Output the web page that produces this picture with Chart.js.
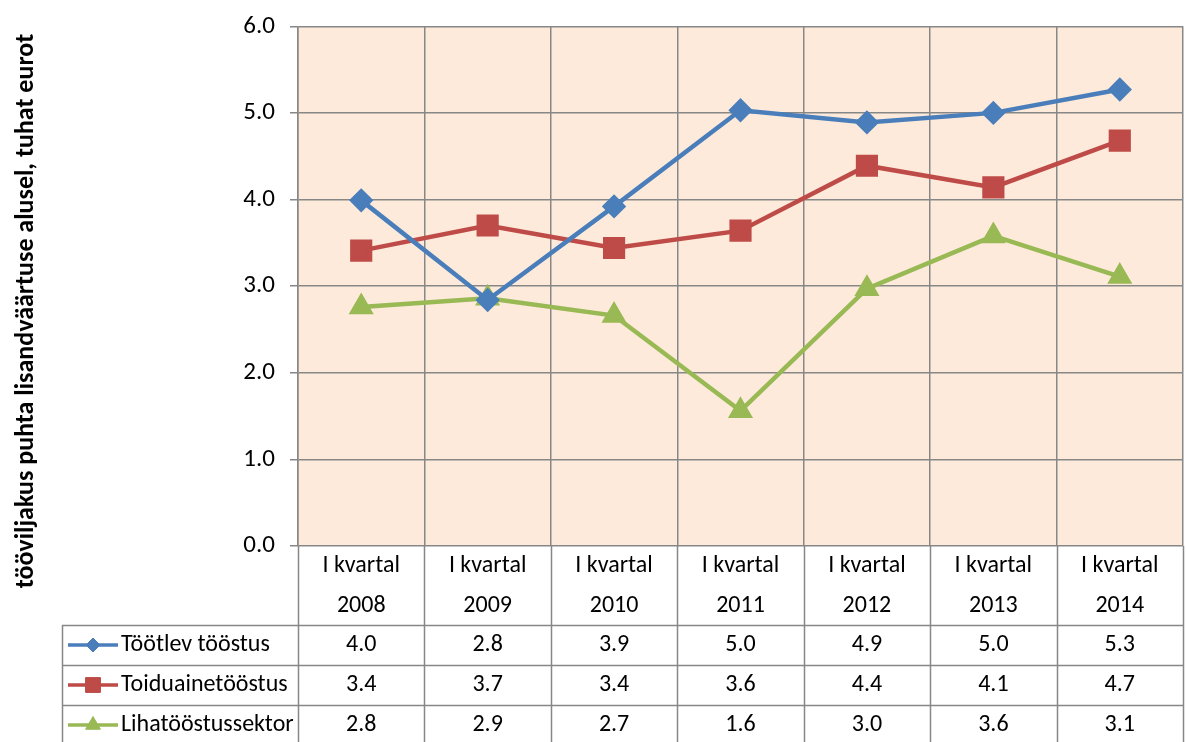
<!DOCTYPE html>
<html>
<head>
<meta charset="utf-8">
<script src="https://cdn.jsdelivr.net/npm/chart.js@4.4.1/dist/chart.umd.min.js"></script>
<style>
  html, body { margin: 0; padding: 0; background: #fff; overflow: hidden; }
  #wrap { position: relative; width: 1200px; height: 742px; }
</style>
</head>
<body>
<div id="wrap"><canvas id="chart" width="1200" height="742"></canvas></div>
<script>
// Data
const quarterLabels = ['I kvartal', 'I kvartal', 'I kvartal', 'I kvartal', 'I kvartal', 'I kvartal', 'I kvartal'];
const yearLabels = ['2008', '2009', '2010', '2011', '2012', '2013', '2014'];
const seriesNames = ['Töötlev tööstus', 'Toiduainetööstus', 'Lihatööstussektor'];
const tootlevTööstus = [3.99, 2.84, 3.92, 5.03, 4.89, 5.00, 5.27];
const toiduainetööstus = [3.41, 3.70, 3.44, 3.64, 4.39, 4.14, 4.68];
const lihatööstussektor = [2.76, 2.86, 2.66, 1.56, 2.97, 3.58, 3.11];
const yTicks = [0, 1, 2, 3, 4, 5, 6];
const yTitle = 'tööviljakus puhta lisandväärtuse alusel, tuhat eurot';

const gridColor = '#878787';
const plotBg = '#FDEADA';
const textFont = 'Carlito, Lato, sans-serif';

// Table below the plot + background of the plot area
const dataTablePlugin = {
  id: 'dataTable',
  beforeDraw(chart) {
    const { ctx, chartArea } = chart;
    ctx.save();
    ctx.fillStyle = plotBg;
    ctx.fillRect(chartArea.left, chartArea.top, chartArea.right - chartArea.left, chartArea.bottom - chartArea.top);
    ctx.restore();
  },
  afterDraw(chart) {
    const { ctx, chartArea, scales } = chart;
    const x = scales.x;
    const n = yearLabels.length;
    const colW = (x.right - x.left) / n;
    const top = chartArea.bottom;
    const headerH = 79;
    const rowH = 40;
    const tableLeft = 62;
    const bottom = top + headerH + rowH * seriesNames.length;

    ctx.save();
    ctx.strokeStyle = gridColor;
    ctx.lineWidth = 1.5;

    // vertical lines through header + rows
    for (let i = 0; i <= n; i++) {
      const px = Math.round(x.left + i * colW) + 0.5;
      ctx.beginPath();
      ctx.moveTo(px, top);
      ctx.lineTo(px, bottom);
      ctx.stroke();
    }
    // left border of legend column
    ctx.beginPath();
    ctx.moveTo(tableLeft + 0.5, top + headerH);
    ctx.lineTo(tableLeft + 0.5, bottom);
    ctx.stroke();
    // horizontal row lines
    for (let r = 0; r <= seriesNames.length; r++) {
      const py = Math.round(top + headerH + r * rowH) + 0.5;
      ctx.beginPath();
      ctx.moveTo(tableLeft, py);
      ctx.lineTo(x.right, py);
      ctx.stroke();
    }

    // header text
    ctx.fillStyle = '#000';
    ctx.textAlign = 'center';
    ctx.textBaseline = 'middle';
    ctx.font = '24px ' + textFont;
    for (let i = 0; i < n; i++) {
      const cx = x.getPixelForValue(i);
      ctx.fillText(quarterLabels[i], cx, top + 20);
      ctx.fillText(yearLabels[i], cx, top + 60);
    }

    // value rows
    chart.data.datasets.forEach((ds, r) => {
      const cy = top + headerH + r * rowH + rowH / 2;
      ctx.textAlign = 'center';
      ds.data.forEach((v, i) => {
        ctx.fillText(v.toFixed(1), x.getPixelForValue(i), cy);
      });

      // legend key: line + marker
      ctx.strokeStyle = ds.borderColor;
      ctx.lineWidth = 3.5;
      ctx.beginPath();
      ctx.moveTo(tableLeft + 6, cy);
      ctx.lineTo(tableLeft + 56, cy);
      ctx.stroke();
      ctx.fillStyle = ds.backgroundColor;
      ctx.strokeStyle = ds.borderColor;
      ctx.lineWidth = 1;
      Chart.helpers.drawPoint(ctx, {
        pointStyle: ds.pointStyle,
        radius: ds.legendRadius,
        rotation: 0,
        borderWidth: 1
      }, tableLeft + 31, cy);

      ctx.fillStyle = '#000';
      ctx.textAlign = 'left';
      ctx.fillText(ds.label, tableLeft + 59, cy);
    });

    // rotated y axis title
    ctx.translate(26, 311);
    ctx.rotate(-Math.PI / 2);
    ctx.textAlign = 'center';
    ctx.font = 'bold 26px ' + textFont;
    ctx.fillText(yTitle, 0, 0);
    ctx.restore();
  }
};

const ctx = document.getElementById('chart').getContext('2d');

new Chart(ctx, {
  type: 'line',
  data: {
    labels: yearLabels,
    datasets: [
      {
        label: seriesNames[0],
        data: tootlevTööstus,
        borderColor: '#4A7EBB',
        backgroundColor: '#4A7EBB',
        pointStyle: 'rectRot',
        pointRadius: 9,
        legendRadius: 7,
        borderWidth: 4.5
      },
      {
        label: seriesNames[1],
        data: toiduainetööstus,
        borderColor: '#BE4B48',
        backgroundColor: '#BE4B48',
        pointStyle: 'rect',
        pointRadius: 12.5,
        legendRadius: 10.5,
        borderWidth: 4.5
      },
      {
        label: seriesNames[2],
        data: lihatööstussektor,
        borderColor: '#98B954',
        backgroundColor: '#98B954',
        pointStyle: 'triangle',
        pointRadius: 10,
        legendRadius: 8.5,
        borderWidth: 4.5
      }
    ]
  },
  options: {
    responsive: false,
    animation: false,
    layout: {
      padding: { top: 26, right: 6, bottom: 196, left: 0 }
    },
    elements: {
      line: { tension: 0 },
      point: { borderWidth: 1, hoverRadius: 9 }
    },
    plugins: {
      legend: { display: false },
      tooltip: { enabled: false }
    },
    scales: {
      x: {
        type: 'category',
        offset: true,
        grid: {
          offset: true,
          color: gridColor,
          lineWidth: 1.5,
          drawTicks: false
        },
        border: { display: false },
        ticks: { display: false },
        afterFit(scale) { scale.height = 0; }
      },
      y: {
        min: 0,
        max: 6,
        afterBuildTicks(scale) {
          scale.ticks = yTicks.map(v => ({ value: v }));
        },
        grid: {
          color: gridColor,
          lineWidth: 1.5,
          tickLength: 8
        },
        border: { display: true, color: gridColor, width: 1.5 },
        ticks: {
          color: '#000',
          padding: 15,
          font: { family: textFont, size: 25, lineHeight: 0.9 },
          callback: v => Number(v).toFixed(1)
        },
        afterFit(scale) { scale.width = 298; }
      }
    }
  },
  plugins: [dataTablePlugin]
});
</script>
</body>
</html>
